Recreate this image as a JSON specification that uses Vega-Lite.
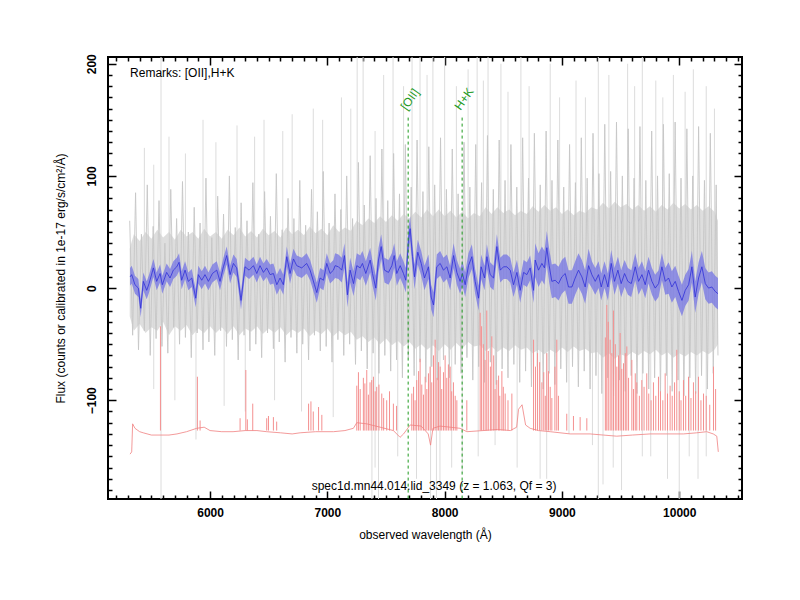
{
  "$schema": "https://vega.github.io/schema/vega-lite/v6.json",
  "width": 634,
  "height": 442,
  "autosize": {"type": "none"},
  "padding": {"left": 108, "top": 57, "right": 58, "bottom": 101},
  "background": "white",
  "config": {
    "font": "Liberation Sans",
    "view": {"stroke": "black", "strokeWidth": 2},
    "axis": {"domain": false, "grid": false, "tickColor": "black", "tickWidth": 1.5, "zindex": 1, "labelColor": "black", "titleColor": "black"}
  },
  "datasets": {
    "noise": [
      {"w":5315,"ihi":35,"ilo":-25},{"w":5350,"ihi":48,"ilo":-38},{"w":5400,"ihi":42,"ilo":-32},
      {"w":5450,"ihi":50,"ilo":-40},{"w":5500,"ihi":44,"ilo":-35},{"w":5550,"ihi":52,"ilo":-38},
      {"w":5600,"ihi":45,"ilo":-30},{"w":5650,"ihi":50,"ilo":-42},{"w":5700,"ihi":43,"ilo":-34},
      {"w":5750,"ihi":52,"ilo":-38},{"w":5800,"ihi":46,"ilo":-33},{"w":5850,"ihi":50,"ilo":-42},
      {"w":5900,"ihi":44,"ilo":-36},{"w":5950,"ihi":53,"ilo":-40},{"w":6000,"ihi":46,"ilo":-34},
      {"w":6050,"ihi":50,"ilo":-40},{"w":6100,"ihi":44,"ilo":-35},{"w":6150,"ihi":52,"ilo":-41},
      {"w":6200,"ihi":47,"ilo":-34},{"w":6250,"ihi":54,"ilo":-42},{"w":6300,"ihi":46,"ilo":-36},
      {"w":6350,"ihi":51,"ilo":-39},{"w":6400,"ihi":45,"ilo":-34},{"w":6450,"ihi":53,"ilo":-41},
      {"w":6500,"ihi":47,"ilo":-36},{"w":6550,"ihi":51,"ilo":-40},{"w":6600,"ihi":45,"ilo":-35},
      {"w":6650,"ihi":54,"ilo":-42},{"w":6700,"ihi":48,"ilo":-37},{"w":6750,"ihi":52,"ilo":-40},
      {"w":6800,"ihi":47,"ilo":-36},{"w":6850,"ihi":55,"ilo":-43},{"w":6900,"ihi":49,"ilo":-38},
      {"w":6950,"ihi":53,"ilo":-41},{"w":7000,"ihi":47,"ilo":-36},{"w":7050,"ihi":56,"ilo":-43},
      {"w":7100,"ihi":50,"ilo":-38},{"w":7150,"ihi":54,"ilo":-42},{"w":7200,"ihi":51,"ilo":-39},
      {"w":7250,"ihi":60,"ilo":-46},{"w":7300,"ihi":56,"ilo":-43},{"w":7350,"ihi":62,"ilo":-48},
      {"w":7400,"ihi":58,"ilo":-44},{"w":7450,"ihi":64,"ilo":-50},{"w":7500,"ihi":59,"ilo":-45},
      {"w":7550,"ihi":65,"ilo":-51},{"w":7600,"ihi":60,"ilo":-47},{"w":7650,"ihi":66,"ilo":-52},
      {"w":7700,"ihi":62,"ilo":-48},{"w":7750,"ihi":68,"ilo":-54},{"w":7800,"ihi":63,"ilo":-50},
      {"w":7850,"ihi":70,"ilo":-55},{"w":7900,"ihi":64,"ilo":-51},{"w":7950,"ihi":70,"ilo":-56},
      {"w":8000,"ihi":64,"ilo":-50},{"w":8050,"ihi":69,"ilo":-55},{"w":8100,"ihi":63,"ilo":-49},
      {"w":8150,"ihi":68,"ilo":-54},{"w":8200,"ihi":62,"ilo":-48},{"w":8250,"ihi":67,"ilo":-52},
      {"w":8300,"ihi":64,"ilo":-51},{"w":8350,"ihi":72,"ilo":-56},{"w":8400,"ihi":66,"ilo":-52},
      {"w":8450,"ihi":72,"ilo":-57},{"w":8500,"ihi":67,"ilo":-53},{"w":8550,"ihi":70,"ilo":-56},
      {"w":8600,"ihi":65,"ilo":-51},{"w":8650,"ihi":69,"ilo":-55},{"w":8700,"ihi":66,"ilo":-53},
      {"w":8750,"ihi":73,"ilo":-58},{"w":8800,"ihi":68,"ilo":-55},{"w":8850,"ihi":74,"ilo":-59},
      {"w":8900,"ihi":69,"ilo":-55},{"w":8950,"ihi":72,"ilo":-58},{"w":9000,"ihi":66,"ilo":-53},
      {"w":9050,"ihi":70,"ilo":-57},{"w":9100,"ihi":65,"ilo":-52},{"w":9150,"ihi":69,"ilo":-56},
      {"w":9200,"ihi":67,"ilo":-54},{"w":9250,"ihi":72,"ilo":-58},{"w":9300,"ihi":70,"ilo":-57},
      {"w":9350,"ihi":76,"ilo":-62},{"w":9400,"ihi":71,"ilo":-58},{"w":9450,"ihi":77,"ilo":-63},
      {"w":9500,"ihi":72,"ilo":-59},{"w":9550,"ihi":75,"ilo":-61},{"w":9600,"ihi":70,"ilo":-57},
      {"w":9650,"ihi":74,"ilo":-60},{"w":9700,"ihi":69,"ilo":-56},{"w":9750,"ihi":73,"ilo":-59},
      {"w":9800,"ihi":68,"ilo":-55},{"w":9850,"ihi":74,"ilo":-60},{"w":9900,"ihi":70,"ilo":-57},
      {"w":9950,"ihi":76,"ilo":-62},{"w":10000,"ihi":71,"ilo":-58},{"w":10050,"ihi":75,"ilo":-61},
      {"w":10100,"ihi":70,"ilo":-57},{"w":10150,"ihi":74,"ilo":-60},{"w":10200,"ihi":69,"ilo":-56},
      {"w":10250,"ihi":73,"ilo":-59},{"w":10300,"ihi":68,"ilo":-55},{"w":10330,"ihi":60,"ilo":-50}
    ],
    "zig": [
      {"w":5315,"g":60},{"w":5340,"g":-42},{"w":5365,"g":85},{"w":5390,"g":-55},{"w":5415,"g":48},{"w":5440,"g":-38},
      {"w":5465,"g":92},{"w":5490,"g":-60},{"w":5515,"g":55},{"w":5540,"g":-45},{"w":5565,"g":78},{"w":5590,"g":-52},
      {"w":5615,"g":40},{"w":5640,"g":-58},{"w":5665,"g":88},{"w":5690,"g":-35},{"w":5715,"g":62},{"w":5740,"g":-50},
      {"w":5765,"g":95},{"w":5790,"g":-44},{"w":5815,"g":50},{"w":5840,"g":-62},{"w":5865,"g":72},{"w":5890,"g":-40},
      {"w":5915,"g":58},{"w":5940,"g":-55},{"w":5965,"g":98},{"w":5990,"g":-48},{"w":6015,"g":45},{"w":6040,"g":-60},
      {"w":6065,"g":82},{"w":6090,"g":-38},{"w":6115,"g":66},{"w":6140,"g":-52},{"w":6165,"g":100},{"w":6190,"g":-46},
      {"w":6215,"g":54},{"w":6240,"g":-64},{"w":6265,"g":76},{"w":6290,"g":-42},{"w":6315,"g":60},{"w":6340,"g":-56},
      {"w":6365,"g":94},{"w":6390,"g":-50},{"w":6415,"g":48},{"w":6440,"g":-62},{"w":6465,"g":86},{"w":6490,"g":-40},
      {"w":6515,"g":64},{"w":6540,"g":-54},{"w":6565,"g":102},{"w":6590,"g":-48},{"w":6615,"g":52},{"w":6640,"g":-66},
      {"w":6665,"g":80},{"w":6690,"g":-44},{"w":6715,"g":62},{"w":6740,"g":-58},{"w":6765,"g":96},{"w":6790,"g":-50},
      {"w":6815,"g":56},{"w":6840,"g":-64},{"w":6865,"g":88},{"w":6890,"g":-42},{"w":6915,"g":68},{"w":6940,"g":-56},
      {"w":6965,"g":104},{"w":6990,"g":-52},{"w":7015,"g":58},{"w":7040,"g":-66},{"w":7065,"g":84},{"w":7090,"g":-46},
      {"w":7115,"g":70},{"w":7140,"g":-60},{"w":7165,"g":100},{"w":7190,"g":-50},{"w":7215,"g":62},{"w":7240,"g":-68},
      {"w":7265,"g":112},{"w":7290,"g":-56},{"w":7315,"g":74},{"w":7340,"g":-72},{"w":7365,"g":118},{"w":7390,"g":-58},
      {"w":7415,"g":80},{"w":7440,"g":-76},{"w":7465,"g":124},{"w":7490,"g":-60},{"w":7515,"g":78},{"w":7540,"g":-74},
      {"w":7565,"g":120},{"w":7590,"g":-64},{"w":7615,"g":84},{"w":7640,"g":-80},{"w":7665,"g":128},{"w":7690,"g":-62},
      {"w":7715,"g":90},{"w":7740,"g":-78},{"w":7765,"g":132},{"w":7790,"g":-66},{"w":7815,"g":86},{"w":7840,"g":-84},
      {"w":7865,"g":126},{"w":7890,"g":-70},{"w":7915,"g":92},{"w":7940,"g":-82},{"w":7965,"g":134},{"w":7990,"g":-64},
      {"w":8015,"g":88},{"w":8040,"g":-80},{"w":8065,"g":124},{"w":8090,"g":-68},{"w":8115,"g":84},{"w":8140,"g":-76},
      {"w":8165,"g":130},{"w":8190,"g":-62},{"w":8215,"g":90},{"w":8240,"g":-82},{"w":8265,"g":128},{"w":8290,"g":-70},
      {"w":8315,"g":94},{"w":8340,"g":-84},{"w":8365,"g":136},{"w":8390,"g":-66},{"w":8415,"g":88},{"w":8440,"g":-86},
      {"w":8465,"g":132},{"w":8490,"g":-72},{"w":8515,"g":96},{"w":8540,"g":-80},{"w":8565,"g":128},{"w":8590,"g":-68},
      {"w":8615,"g":90},{"w":8640,"g":-84},{"w":8665,"g":134},{"w":8690,"g":-74},{"w":8715,"g":98},{"w":8740,"g":-88},
      {"w":8765,"g":138},{"w":8790,"g":-70},{"w":8815,"g":92},{"w":8840,"g":-90},{"w":8865,"g":140},{"w":8890,"g":-76},
      {"w":8915,"g":96},{"w":8940,"g":-86},{"w":8965,"g":132},{"w":8990,"g":-72},{"w":9015,"g":90},{"w":9040,"g":-84},
      {"w":9065,"g":128},{"w":9090,"g":-70},{"w":9115,"g":94},{"w":9140,"g":-88},{"w":9165,"g":134},{"w":9190,"g":-74},
      {"w":9215,"g":98},{"w":9240,"g":-90},{"w":9265,"g":138},{"w":9290,"g":-78},{"w":9315,"g":102},{"w":9340,"g":-94},
      {"w":9365,"g":146},{"w":9390,"g":-80},{"w":9415,"g":104},{"w":9440,"g":-96},{"w":9465,"g":148},{"w":9490,"g":-82},
      {"w":9515,"g":100},{"w":9540,"g":-92},{"w":9565,"g":142},{"w":9590,"g":-78},{"w":9615,"g":98},{"w":9640,"g":-94},
      {"w":9665,"g":144},{"w":9690,"g":-76},{"w":9715,"g":96},{"w":9740,"g":-90},{"w":9765,"g":140},{"w":9790,"g":-80},
      {"w":9815,"g":100},{"w":9840,"g":-96},{"w":9865,"g":146},{"w":9890,"g":-78},{"w":9915,"g":102},{"w":9940,"g":-92},
      {"w":9965,"g":148},{"w":9990,"g":-82},{"w":10015,"g":98},{"w":10040,"g":-96},{"w":10065,"g":142},{"w":10090,"g":-80},
      {"w":10115,"g":100},{"w":10140,"g":-94},{"w":10165,"g":144},{"w":10190,"g":-78},{"w":10215,"g":96},{"w":10240,"g":-90},
      {"w":10265,"g":138},{"w":10290,"g":-76},{"w":10315,"g":92},{"w":10330,"g":-60}
    ],
    "spikes": [
      {"w":5440,"a":0,"b":125},{"w":5520,"a":-90,"b":110},{"w":5582,"a":-188,"b":206},
      {"w":5650,"a":0,"b":135},{"w":5700,"a":-100,"b":0},{"w":5790,"a":0,"b":120},
      {"w":5880,"a":-135,"b":0},{"w":5940,"a":0,"b":150},{"w":6050,"a":0,"b":130},
      {"w":6120,"a":-105,"b":0},{"w":6230,"a":0,"b":145},{"w":6300,"a":-110,"b":0},
      {"w":6380,"a":0,"b":135},{"w":6460,"a":0,"b":150},{"w":6550,"a":-100,"b":0},
      {"w":6620,"a":0,"b":140},{"w":6700,"a":0,"b":155},{"w":6780,"a":-110,"b":0},
      {"w":6880,"a":0,"b":160},{"w":6960,"a":0,"b":150},{"w":7050,"a":-115,"b":0},
      {"w":7120,"a":0,"b":170},{"w":7200,"a":0,"b":160},{"w":7254,"a":0,"b":206},
      {"w":7305,"a":0,"b":206},{"w":7380,"a":-188,"b":0},{"w":7407,"a":-160,"b":140},
      {"w":7436,"a":-188,"b":0},{"w":7480,"a":0,"b":190},{"w":7560,"a":0,"b":206},
      {"w":7600,"a":-150,"b":0},{"w":7650,"a":0,"b":180},{"w":7722,"a":0,"b":206},
      {"w":7760,"a":-170,"b":0},{"w":7790,"a":0,"b":206},{"w":7850,"a":0,"b":190},
      {"w":7880,"a":-188,"b":0},{"w":7900,"a":0,"b":206},{"w":7930,"a":-188,"b":0},
      {"w":7960,"a":-175,"b":0},{"w":8000,"a":0,"b":206},{"w":8060,"a":-160,"b":0},
      {"w":8100,"a":0,"b":180},{"w":8150,"a":-165,"b":0},{"w":8200,"a":0,"b":195},
      {"w":8277,"a":0,"b":206},{"w":8286,"a":-150,"b":0},{"w":8330,"a":0,"b":185},
      {"w":8370,"a":0,"b":206},{"w":8430,"a":-140,"b":0},{"w":8480,"a":0,"b":200},
      {"w":8540,"a":0,"b":175},{"w":8618,"a":-160,"b":0},{"w":8650,"a":0,"b":206},
      {"w":8720,"a":0,"b":180},{"w":8814,"a":-170,"b":0},{"w":8870,"a":-170,"b":0},
      {"w":8900,"a":0,"b":200},{"w":8980,"a":0,"b":170},{"w":9060,"a":-130,"b":0},
      {"w":9120,"a":0,"b":185},{"w":9200,"a":0,"b":170},{"w":9260,"a":-140,"b":0},
      {"w":9310,"a":-188,"b":206},{"w":9350,"a":-175,"b":0},{"w":9400,"a":0,"b":190},
      {"w":9437,"a":-160,"b":0},{"w":9508,"a":-180,"b":0},{"w":9560,"a":0,"b":200},
      {"w":9620,"a":0,"b":180},{"w":9685,"a":-150,"b":206},{"w":9757,"a":-150,"b":0},
      {"w":9800,"a":0,"b":185},{"w":9860,"a":0,"b":170},{"w":9900,"a":-170,"b":0},
      {"w":9950,"a":0,"b":190},{"w":10000,"a":-188,"b":0},{"w":10050,"a":0,"b":175},
      {"w":10085,"a":-150,"b":0},{"w":10120,"a":0,"b":195},{"w":10160,"a":-170,"b":0},
      {"w":10230,"a":-150,"b":180},{"w":10300,"a":0,"b":160}
    ],
    "skybase": [
      {"w":5318,"s":-148},{"w":5332,"s":-146},{"w":5340,"s":-121},{"w":5360,"s":-125},
      {"w":5400,"s":-128},{"w":5430,"s":-129},{"w":5500,"s":-131},{"w":5573,"s":-131},
      {"w":5650,"s":-131},{"w":5718,"s":-130},{"w":5800,"s":-128},{"w":5886,"s":-125},
      {"w":5950,"s":-124},{"w":6000,"s":-127},{"w":6100,"s":-128},{"w":6196,"s":-128},
      {"w":6300,"s":-127},{"w":6400,"s":-127},{"w":6483,"s":-128},{"w":6600,"s":-129},
      {"w":6700,"s":-130},{"w":6768,"s":-129},{"w":6900,"s":-128},{"w":7052,"s":-128},
      {"w":7150,"s":-127},{"w":7222,"s":-125},{"w":7251,"s":-120},{"w":7336,"s":-121},
      {"w":7450,"s":-124},{"w":7563,"s":-127},{"w":7620,"s":-133},{"w":7650,"s":-130},
      {"w":7706,"s":-122},{"w":7800,"s":-123},{"w":7860,"s":-130},{"w":7880,"s":-140},
      {"w":7900,"s":-125},{"w":7960,"s":-123},{"w":8047,"s":-124},{"w":8132,"s":-125},
      {"w":8189,"s":-128},{"w":8328,"s":-127},{"w":8450,"s":-126},{"w":8560,"s":-127},
      {"w":8614,"s":-124},{"w":8630,"s":-108},{"w":8660,"s":-104},{"w":8690,"s":-122},
      {"w":8729,"s":-125},{"w":8800,"s":-127},{"w":8900,"s":-128},{"w":9070,"s":-130},
      {"w":9240,"s":-130},{"w":9353,"s":-131},{"w":9467,"s":-132},{"w":9600,"s":-131},
      {"w":9752,"s":-130},{"w":9900,"s":-130},{"w":10036,"s":-130},{"w":10150,"s":-129},
      {"w":10234,"s":-128},{"w":10290,"s":-130},{"w":10320,"s":-132},{"w":10333,"s":-146}
    ],
    "skyspikes": [
      {"w":5577,"t":-34},{"w":5892,"t":-79},{"w":5915,"t":-118},{"w":6256,"t":-116},
      {"w":6305,"t":-73},{"w":6318,"t":-117},{"w":6364,"t":-103},{"w":6483,"t":-116},
      {"w":6498,"t":-114},{"w":6540,"t":-115},{"w":6568,"t":-119},{"w":6840,"t":-103},
      {"w":6860,"t":-101},{"w":6880,"t":-110},{"w":6925,"t":-106},{"w":6953,"t":-113},
      {"w":7251,"t":-87},{"w":7265,"t":-75},{"w":7280,"t":-90},{"w":7307,"t":-80},
      {"w":7320,"t":-85},{"w":7336,"t":-73},{"w":7350,"t":-95},{"w":7364,"t":-84},
      {"w":7378,"t":-82},{"w":7393,"t":-79},{"w":7408,"t":-92},{"w":7421,"t":-88},
      {"w":7440,"t":-86},{"w":7464,"t":-94},{"w":7480,"t":-98},{"w":7506,"t":-100},
      {"w":7530,"t":-92},{"w":7563,"t":-103},{"w":7590,"t":-105},{"w":7720,"t":-94},
      {"w":7735,"t":-88},{"w":7748,"t":-100},{"w":7762,"t":-82},{"w":7778,"t":-74},
      {"w":7791,"t":-63},{"w":7805,"t":-86},{"w":7820,"t":-95},{"w":7834,"t":-79},
      {"w":7848,"t":-90},{"w":7862,"t":-76},{"w":7876,"t":-70},{"w":7890,"t":-84},
      {"w":7905,"t":-60},{"w":7919,"t":-46},{"w":7935,"t":-80},{"w":7948,"t":-66},
      {"w":7962,"t":-70},{"w":7975,"t":-90},{"w":7990,"t":-75},{"w":8004,"t":-60},
      {"w":8018,"t":-80},{"w":8032,"t":-68},{"w":8047,"t":-70},{"w":8060,"t":-92},
      {"w":8075,"t":-84},{"w":8090,"t":-96},{"w":8104,"t":-100},{"w":8189,"t":-100},
      {"w":8303,"t":-22},{"w":8315,"t":-34},{"w":8330,"t":-50},{"w":8345,"t":-64},
      {"w":8359,"t":-20},{"w":8372,"t":-56},{"w":8390,"t":-70},{"w":8402,"t":-43},
      {"w":8418,"t":-60},{"w":8430,"t":-90},{"w":8445,"t":-82},{"w":8460,"t":-78},
      {"w":8470,"t":-96},{"w":8488,"t":-74},{"w":8500,"t":-88},{"w":8516,"t":-94},
      {"w":8540,"t":-100},{"w":8573,"t":-94},{"w":8758,"t":-46},{"w":8775,"t":-70},
      {"w":8792,"t":-58},{"w":8810,"t":-66},{"w":8829,"t":-84},{"w":8845,"t":-75},
      {"w":8858,"t":-96},{"w":8871,"t":-58},{"w":8885,"t":-74},{"w":8900,"t":-88},
      {"w":8914,"t":-98},{"w":8940,"t":-70},{"w":8956,"t":-46},{"w":8970,"t":-96},
      {"w":9041,"t":-112},{"w":9098,"t":-114},{"w":9155,"t":-115},{"w":9212,"t":-116},
      {"w":9370,"t":-44},{"w":9382,"t":-15},{"w":9395,"t":-30},{"w":9411,"t":-46},
      {"w":9425,"t":-58},{"w":9439,"t":-20},{"w":9455,"t":-50},{"w":9468,"t":-70},
      {"w":9482,"t":-60},{"w":9496,"t":-40},{"w":9510,"t":-72},{"w":9525,"t":-67},
      {"w":9540,"t":-58},{"w":9553,"t":-52},{"w":9568,"t":-80},{"w":9596,"t":-64},
      {"w":9610,"t":-90},{"w":9625,"t":-76},{"w":9638,"t":-84},{"w":9660,"t":-96},
      {"w":9681,"t":-82},{"w":9700,"t":-88},{"w":9723,"t":-76},{"w":9740,"t":-94},
      {"w":9760,"t":-100},{"w":9780,"t":-84},{"w":9800,"t":-96},{"w":9823,"t":-79},
      {"w":9840,"t":-92},{"w":9860,"t":-100},{"w":9880,"t":-76},{"w":9900,"t":-94},
      {"w":9922,"t":-87},{"w":9940,"t":-96},{"w":9960,"t":-84},{"w":9979,"t":-55},
      {"w":10000,"t":-92},{"w":10015,"t":-100},{"w":10036,"t":-82},{"w":10055,"t":-96},
      {"w":10079,"t":-79},{"w":10100,"t":-98},{"w":10121,"t":-84},{"w":10140,"t":-92},
      {"w":10164,"t":-79},{"w":10185,"t":-100},{"w":10207,"t":-94},{"w":10230,"t":-96},
      {"w":10260,"t":-104},{"w":10292,"t":-70},{"w":10310,"t":-90}
    ],
    "blue": [
      {"w":5318,"f":10,"lo":2,"hi":18},{"w":5332,"f":12,"lo":4,"hi":20},{"w":5360,"f":3,"lo":-5,"hi":11},
      {"w":5389,"f":0,"lo":-8,"hi":8},{"w":5409,"f":-18,"lo":-26,"hi":-10},{"w":5431,"f":6,"lo":-2,"hi":14},
      {"w":5460,"f":-2,"lo":-10,"hi":6},{"w":5480,"f":4,"lo":-4,"hi":12},{"w":5517,"f":18,"lo":10,"hi":26},
      {"w":5545,"f":6,"lo":-2,"hi":14},{"w":5574,"f":13,"lo":5,"hi":21},{"w":5593,"f":3,"lo":-5,"hi":11},
      {"w":5630,"f":14,"lo":6,"hi":22},{"w":5659,"f":9,"lo":1,"hi":17},{"w":5687,"f":16,"lo":8,"hi":24},
      {"w":5716,"f":19,"lo":11,"hi":27},{"w":5736,"f":23,"lo":15,"hi":31},{"w":5758,"f":7,"lo":-1,"hi":15},
      {"w":5787,"f":16,"lo":8,"hi":24},{"w":5815,"f":6,"lo":-2,"hi":14},{"w":5844,"f":9,"lo":1,"hi":17},
      {"w":5878,"f":-9,"lo":-17,"hi":-1},{"w":5900,"f":12,"lo":4,"hi":20},{"w":5929,"f":7,"lo":-1,"hi":15},
      {"w":5957,"f":12,"lo":4,"hi":20},{"w":5986,"f":6,"lo":-2,"hi":14},{"w":6020,"f":13,"lo":5,"hi":21},
      {"w":6057,"f":16,"lo":8,"hi":24},{"w":6085,"f":6,"lo":-2,"hi":14},{"w":6114,"f":19,"lo":11,"hi":27},
      {"w":6142,"f":29,"lo":21,"hi":37},{"w":6171,"f":12,"lo":4,"hi":20},{"w":6199,"f":22,"lo":14,"hi":30},
      {"w":6227,"f":18,"lo":10,"hi":26},{"w":6264,"f":-11,"lo":-19,"hi":-3},{"w":6298,"f":19,"lo":11,"hi":27},
      {"w":6333,"f":16,"lo":8,"hi":24},{"w":6370,"f":20,"lo":12,"hi":28},{"w":6398,"f":13,"lo":5,"hi":21},
      {"w":6426,"f":20,"lo":12,"hi":28},{"w":6455,"f":14,"lo":6,"hi":22},{"w":6483,"f":18,"lo":10,"hi":26},
      {"w":6512,"f":12,"lo":3,"hi":21},{"w":6540,"f":13,"lo":4,"hi":22},{"w":6569,"f":3,"lo":-6,"hi":12},
      {"w":6597,"f":9,"lo":0,"hi":18},{"w":6625,"f":3,"lo":-6,"hi":12},{"w":6654,"f":28,"lo":19,"hi":37},
      {"w":6682,"f":13,"lo":4,"hi":22},{"w":6711,"f":26,"lo":17,"hi":35},{"w":6739,"f":20,"lo":11,"hi":29},
      {"w":6782,"f":18,"lo":9,"hi":27},{"w":6824,"f":22,"lo":13,"hi":31},{"w":6853,"f":16,"lo":7,"hi":25},
      {"w":6890,"f":3,"lo":-6,"hi":12},{"w":6910,"f":-4,"lo":-13,"hi":5},{"w":6938,"f":9,"lo":0,"hi":18},
      {"w":6967,"f":7,"lo":-2,"hi":16},{"w":6995,"f":22,"lo":13,"hi":31},{"w":7023,"f":13,"lo":4,"hi":22},
      {"w":7052,"f":16,"lo":7,"hi":25},{"w":7066,"f":20,"lo":9,"hi":31},{"w":7095,"f":19,"lo":8,"hi":30},
      {"w":7123,"f":16,"lo":5,"hi":27},{"w":7146,"f":29,"lo":18,"hi":40},{"w":7171,"f":-6,"lo":-17,"hi":5},
      {"w":7194,"f":16,"lo":5,"hi":27},{"w":7223,"f":4,"lo":-7,"hi":15},{"w":7251,"f":20,"lo":9,"hi":31},
      {"w":7280,"f":18,"lo":7,"hi":29},{"w":7299,"f":22,"lo":11,"hi":33},{"w":7328,"f":13,"lo":2,"hi":24},
      {"w":7365,"f":25,"lo":14,"hi":36},{"w":7385,"f":13,"lo":2,"hi":24},{"w":7413,"f":0,"lo":-11,"hi":11},
      {"w":7436,"f":25,"lo":14,"hi":36},{"w":7459,"f":37,"lo":26,"hi":48},{"w":7487,"f":16,"lo":5,"hi":27},
      {"w":7521,"f":14,"lo":3,"hi":25},{"w":7550,"f":20,"lo":9,"hi":31},{"w":7570,"f":29,"lo":18,"hi":40},
      {"w":7592,"f":13,"lo":2,"hi":24},{"w":7621,"f":20,"lo":9,"hi":31},{"w":7649,"f":13,"lo":2,"hi":24},
      {"w":7669,"f":7,"lo":-4,"hi":18},{"w":7692,"f":43,"lo":32,"hi":54},{"w":7706,"f":53,"lo":42,"hi":64},
      {"w":7726,"f":28,"lo":17,"hi":39},{"w":7743,"f":10,"lo":-1,"hi":21},{"w":7771,"f":32,"lo":21,"hi":43},
      {"w":7800,"f":22,"lo":11,"hi":33},{"w":7828,"f":9,"lo":-2,"hi":20},{"w":7862,"f":19,"lo":8,"hi":30},
      {"w":7885,"f":-8,"lo":-19,"hi":3},{"w":7905,"f":-15,"lo":-26,"hi":-4},{"w":7933,"f":19,"lo":8,"hi":30},
      {"w":7962,"f":22,"lo":11,"hi":33},{"w":7990,"f":16,"lo":5,"hi":27},{"w":8019,"f":19,"lo":8,"hi":30},
      {"w":8047,"f":9,"lo":-2,"hi":20},{"w":8076,"f":29,"lo":18,"hi":40},{"w":8104,"f":14,"lo":3,"hi":25},
      {"w":8132,"f":6,"lo":-5,"hi":17},{"w":8152,"f":13,"lo":2,"hi":24},{"w":8175,"f":3,"lo":-8,"hi":14},
      {"w":8203,"f":20,"lo":9,"hi":31},{"w":8232,"f":28,"lo":17,"hi":39},{"w":8260,"f":6,"lo":-5,"hi":17},
      {"w":8289,"f":-9,"lo":-20,"hi":2},{"w":8311,"f":19,"lo":8,"hi":30},{"w":8340,"f":9,"lo":-2,"hi":20},
      {"w":8360,"f":28,"lo":17,"hi":39},{"w":8388,"f":12,"lo":1,"hi":23},{"w":8417,"f":9,"lo":-2,"hi":20},
      {"w":8445,"f":37,"lo":26,"hi":48},{"w":8474,"f":16,"lo":5,"hi":27},{"w":8502,"f":19,"lo":8,"hi":30},
      {"w":8530,"f":19,"lo":8,"hi":30},{"w":8559,"f":16,"lo":5,"hi":27},{"w":8587,"f":3,"lo":-8,"hi":14},
      {"w":8616,"f":14,"lo":3,"hi":25},{"w":8644,"f":-2,"lo":-13,"hi":9},{"w":8673,"f":14,"lo":3,"hi":25},
      {"w":8701,"f":12,"lo":1,"hi":23},{"w":8729,"f":18,"lo":7,"hi":29},{"w":8758,"f":-2,"lo":-13,"hi":9},
      {"w":8772,"f":25,"lo":10,"hi":40},{"w":8800,"f":16,"lo":1,"hi":31},{"w":8829,"f":22,"lo":7,"hi":37},
      {"w":8851,"f":18,"lo":3,"hi":33},{"w":8871,"f":36,"lo":21,"hi":51},{"w":8891,"f":20,"lo":5,"hi":35},
      {"w":8914,"f":6,"lo":-9,"hi":21},{"w":8942,"f":7,"lo":-8,"hi":22},{"w":8971,"f":4,"lo":-11,"hi":19},
      {"w":8999,"f":10,"lo":-5,"hi":25},{"w":9028,"f":13,"lo":-2,"hi":28},{"w":9056,"f":1,"lo":-14,"hi":16},
      {"w":9085,"f":1,"lo":-14,"hi":16},{"w":9113,"f":9,"lo":-6,"hi":24},{"w":9141,"f":16,"lo":1,"hi":31},
      {"w":9170,"f":10,"lo":-5,"hi":25},{"w":9198,"f":1,"lo":-14,"hi":16},{"w":9227,"f":20,"lo":5,"hi":35},
      {"w":9255,"f":12,"lo":0,"hi":24},{"w":9284,"f":6,"lo":-6,"hi":18},{"w":9312,"f":12,"lo":0,"hi":24},
      {"w":9335,"f":1,"lo":-11,"hi":13},{"w":9363,"f":12,"lo":0,"hi":24},{"w":9392,"f":1,"lo":-11,"hi":13},
      {"w":9420,"f":22,"lo":10,"hi":34},{"w":9448,"f":6,"lo":-6,"hi":18},{"w":9477,"f":16,"lo":4,"hi":28},
      {"w":9505,"f":4,"lo":-8,"hi":16},{"w":9534,"f":13,"lo":1,"hi":25},{"w":9562,"f":6,"lo":-6,"hi":18},
      {"w":9591,"f":4,"lo":-8,"hi":16},{"w":9625,"f":19,"lo":7,"hi":31},{"w":9653,"f":6,"lo":-6,"hi":18},
      {"w":9682,"f":12,"lo":0,"hi":24},{"w":9710,"f":3,"lo":-9,"hi":15},{"w":9738,"f":16,"lo":4,"hi":28},
      {"w":9767,"f":6,"lo":-6,"hi":18},{"w":9795,"f":0,"lo":-12,"hi":12},{"w":9824,"f":4,"lo":-8,"hi":16},
      {"w":9852,"f":19,"lo":7,"hi":31},{"w":9881,"f":6,"lo":-6,"hi":18},{"w":9909,"f":9,"lo":-5,"hi":23},
      {"w":9937,"f":1,"lo":-13,"hi":15},{"w":9966,"f":6,"lo":-8,"hi":20},{"w":9994,"f":-3,"lo":-17,"hi":11},
      {"w":10023,"f":-11,"lo":-25,"hi":3},{"w":10051,"f":-2,"lo":-16,"hi":12},{"w":10080,"f":3,"lo":-11,"hi":17},
      {"w":10108,"f":19,"lo":5,"hi":33},{"w":10136,"f":-8,"lo":-22,"hi":6},{"w":10165,"f":9,"lo":-5,"hi":23},
      {"w":10193,"f":19,"lo":5,"hi":33},{"w":10222,"f":4,"lo":-10,"hi":18},{"w":10250,"f":0,"lo":-14,"hi":14},
      {"w":10278,"f":1,"lo":-13,"hi":15},{"w":10307,"f":-3,"lo":-17,"hi":11},{"w":10330,"f":-5,"lo":-19,"hi":9}
    ],
    "lines": [
      {"w":7689,"top":152,"bot":-188,"tw":7648,"ty":160,"label":"[OII]"},
      {"w":8149,"top":152,"bot":-188,"tw":8108,"ty":160,"label":"H+K"}
    ],
    "notes": [
      {"w":5318,"y":192,"label":"Remarks: [OII],H+K","anchor":"left"},
      {"w":7910,"y":-176,"label":"spec1d.mn44.014.lid_3349 (z = 1.063, Qf = 3)","anchor":"center"}
    ]
  },
  "layer": [
    {
      "data": {"name": "spikes"},
      "mark": {"type": "rule", "color": "#dcdcdc", "strokeWidth": 1},
      "encoding": {
        "x": {"field": "w", "type": "quantitative", "scale": {"domain": [5130, 10535], "nice": false, "zero": false},
          "axis": {"orient": "bottom", "values": [6000, 7000, 8000, 9000, 10000], "format": "d", "ticks": false, "labelFontWeight": "bold", "labelFontSize": 12, "labelPadding": 8,
            "title": "observed wavelength (Å)", "titleFontWeight": "normal", "titleFontSize": 12, "titlePadding": 11}},
        "y": {"field": "a", "type": "quantitative", "scale": {"domain": [-188, 206], "nice": false, "zero": false},
          "axis": {"orient": "left", "values": [-100, 0, 100, 200], "ticks": false, "labelFontWeight": "bold", "labelFontSize": 12, "labelAngle": 270, "labelAlign": "center", "labelBaseline": "bottom", "labelPadding": 10,
            "title": "Flux (counts or calibrated in 1e-17 erg/s/cm²/Å)", "titleFontWeight": "normal", "titleFontSize": 12, "titlePadding": 18}},
        "y2": {"field": "b"}
      }
    },
    {
      "data": {"name": "noise"},
      "mark": {"type": "area", "color": "#d6d6d6", "opacity": 0.8},
      "encoding": {
        "x": {"field": "w", "type": "quantitative", "scale": {"domain": [5130, 10535], "nice": false, "zero": false},
          "axis": {"orient": "bottom", "values": [5200,5300,5400,5500,5600,5700,5800,5900,6100,6200,6300,6400,6500,6600,6700,6800,6900,7100,7200,7300,7400,7500,7600,7700,7800,7900,8100,8200,8300,8400,8500,8600,8700,8800,8900,9100,9200,9300,9400,9500,9600,9700,9800,9900,10100,10200,10300,10400,10500], "labels": false, "tickSize": -4, "title": null}},
        "y": {"field": "ilo", "type": "quantitative", "scale": {"domain": [-188, 206], "nice": false, "zero": false},
          "axis": {"orient": "left", "values": [-180,-170,-160,-150,-140,-130,-120,-110,-90,-80,-70,-60,-50,-40,-30,-20,-10,10,20,30,40,50,60,70,80,90,110,120,130,140,150,160,170,180,190], "labels": false, "tickSize": -4, "title": null}},
        "y2": {"field": "ihi"}
      }
    },
    {
      "data": {"name": "zig"},
      "mark": {"type": "line", "color": "#c6c6c6", "strokeWidth": 0.9},
      "encoding": {
        "x": {"field": "w", "type": "quantitative", "scale": {"domain": [5130, 10535], "nice": false, "zero": false},
          "axis": {"orient": "bottom", "values": [6000, 7000, 8000, 9000, 10000], "labels": false, "tickSize": -8, "title": null}},
        "y": {"field": "g", "type": "quantitative", "scale": {"domain": [-188, 206], "nice": false, "zero": false},
          "axis": {"orient": "left", "values": [-100, 0, 100, 200], "labels": false, "tickSize": -8, "title": null}}
      }
    },
    {
      "data": {"name": "skyspikes"},
      "mark": {"type": "rule", "color": "#f49090", "strokeWidth": 1},
      "encoding": {
        "x": {"field": "w", "type": "quantitative", "scale": {"domain": [5130, 10535], "nice": false, "zero": false},
          "axis": {"orient": "top", "values": [6000, 7000, 8000, 9000, 10000], "labels": false, "tickSize": -8, "title": null}},
        "y": {"field": "t", "type": "quantitative", "scale": {"domain": [-188, 206], "nice": false, "zero": false},
          "axis": {"orient": "right", "values": [-100, 0, 100, 200], "labels": false, "tickSize": -8, "title": null}},
        "y2": {"datum": -127}
      }
    },
    {
      "data": {"name": "skybase"},
      "mark": {"type": "line", "color": "#f08080", "strokeWidth": 0.8},
      "encoding": {
        "x": {"field": "w", "type": "quantitative", "scale": {"domain": [5130, 10535], "nice": false, "zero": false},
          "axis": {"orient": "top", "values": [5200,5300,5400,5500,5600,5700,5800,5900,6100,6200,6300,6400,6500,6600,6700,6800,6900,7100,7200,7300,7400,7500,7600,7700,7800,7900,8100,8200,8300,8400,8500,8600,8700,8800,8900,9100,9200,9300,9400,9500,9600,9700,9800,9900,10100,10200,10300,10400,10500], "labels": false, "tickSize": -4, "title": null}},
        "y": {"field": "s", "type": "quantitative", "scale": {"domain": [-188, 206], "nice": false, "zero": false},
          "axis": {"orient": "right", "values": [-180,-170,-160,-150,-140,-130,-120,-110,-90,-80,-70,-60,-50,-40,-30,-20,-10,10,20,30,40,50,60,70,80,90,110,120,130,140,150,160,170,180,190], "labels": false, "tickSize": -4, "title": null}}
      }
    },
    {
      "data": {"name": "blue"},
      "mark": {"type": "area", "color": "#7474e4", "opacity": 0.75},
      "encoding": {
        "x": {"field": "w", "type": "quantitative", "axis": null},
        "y": {"field": "lo", "type": "quantitative", "axis": null},
        "y2": {"field": "hi"}
      }
    },
    {
      "data": {"name": "blue"},
      "mark": {"type": "line", "color": "#3030d8", "strokeWidth": 0.8},
      "encoding": {
        "x": {"field": "w", "type": "quantitative", "axis": null},
        "y": {"field": "f", "type": "quantitative", "axis": null}
      }
    },
    {
      "data": {"name": "lines"},
      "mark": {"type": "rule", "color": "#1e9a1e", "strokeWidth": 1, "strokeDash": [3, 3]},
      "encoding": {
        "x": {"field": "w", "type": "quantitative", "axis": null},
        "y": {"field": "top", "type": "quantitative", "axis": null},
        "y2": {"field": "bot"}
      }
    },
    {
      "data": {"name": "lines"},
      "mark": {"type": "text", "color": "#1e9a1e", "fontSize": 12, "angle": 305, "align": "left", "baseline": "middle"},
      "encoding": {
        "x": {"field": "tw", "type": "quantitative", "axis": null},
        "y": {"field": "ty", "type": "quantitative", "axis": null},
        "text": {"field": "label"}
      }
    },
    {
      "data": {"name": "notes"},
      "transform": [{"filter": "datum.anchor == 'left'"}],
      "mark": {"type": "text", "color": "black", "fontSize": 12, "align": "left", "baseline": "middle"},
      "encoding": {
        "x": {"field": "w", "type": "quantitative", "axis": null},
        "y": {"field": "y", "type": "quantitative", "axis": null},
        "text": {"field": "label"}
      }
    },
    {
      "data": {"name": "notes"},
      "transform": [{"filter": "datum.anchor == 'center'"}],
      "mark": {"type": "text", "color": "black", "fontSize": 12, "align": "center", "baseline": "middle"},
      "encoding": {
        "x": {"field": "w", "type": "quantitative", "axis": null},
        "y": {"field": "y", "type": "quantitative", "axis": null},
        "text": {"field": "label"}
      }
    }
  ],
  "resolve": {"axis": {"x": "independent", "y": "independent"}}
}
